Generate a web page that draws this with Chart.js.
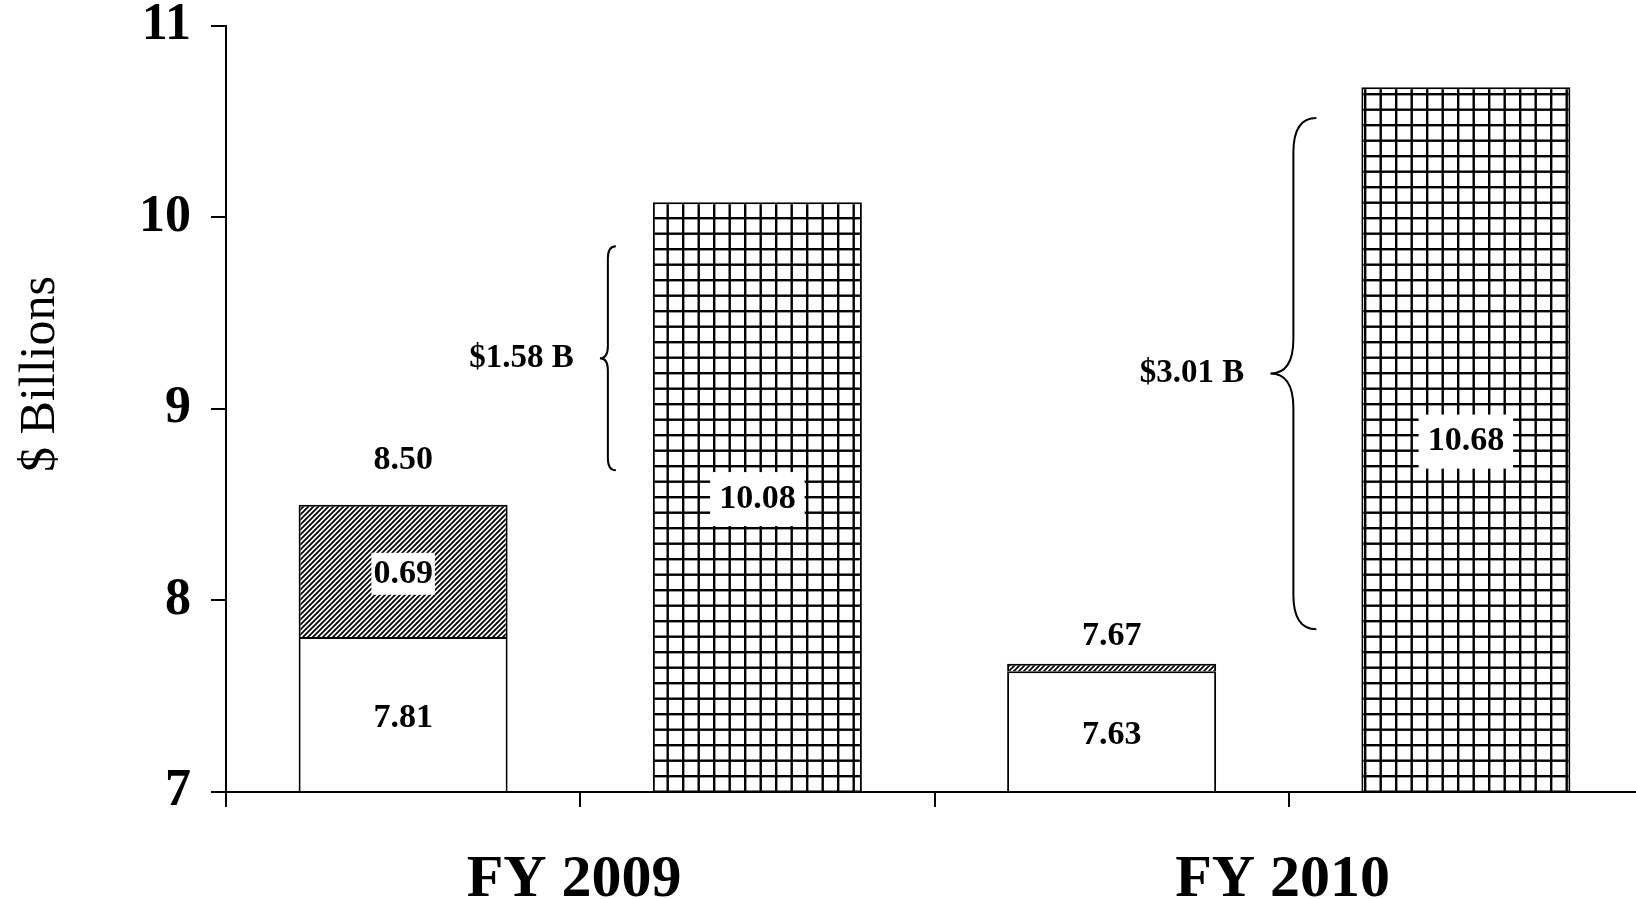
<!DOCTYPE html>
<html>
<head>
<meta charset="utf-8">
<script src="https://cdn.jsdelivr.net/npm/chart.js@4"></script>
<style>
  html, body { margin: 0; padding: 0; background: #fff; overflow: hidden; }
  #wrap { width: 1643px; height: 899px; }
</style>
</head>
<body>
<div id="wrap"><canvas id="fundingChart"></canvas></div>
<script>
// values ($ billions)
const years = ['FY 2009', 'FY 2010'];
const baseFunding = [7.81, 7.63];
const addedFunding = [0.69, 0.04];
const totalFunding = [8.50, 7.67];
const estimatedNeed = [10.08, 10.68];
const gapLabels = ['$1.58 B', '$3.01 B'];
const braceTop = [9.85, 10.52];
const braceBottom = [8.68, 7.85];
const yTicks = [7, 8, 9, 10, 11];

const SERIF = "'Liberation Serif', 'Times New Roman', serif";

// each year takes two slots: stacked bar, then the estimate bar
const slotLabels = years.flatMap(y => [y, '']);
const inFirst = arr => arr.flatMap(v => [v, null]);
const inSecond = arr => arr.flatMap(v => [null, v]);

const canvas = document.getElementById('fundingChart');
const ctx = canvas.getContext('2d');

function gridPattern() {
    const c = document.createElement('canvas');
    c.width = 31; c.height = 31;
    const g = c.getContext('2d');
    g.fillStyle = '#fff';
    g.fillRect(0, 0, 31, 31);
    g.fillStyle = '#000';
    [0, 15.5].forEach(p => {
        g.fillRect(p, 0, 2.4, 31);
        g.fillRect(0, p, 31, 2.4);
    });
    return ctx.createPattern(c, 'repeat');
}

function hatchPattern() {
    const s = 5;
    const c = document.createElement('canvas');
    c.width = s; c.height = s;
    const g = c.getContext('2d');
    g.fillStyle = '#fff';
    g.fillRect(0, 0, s, s);
    g.strokeStyle = '#000';
    g.lineWidth = 1.8;
    g.beginPath();
    g.moveTo(-1, s + 1); g.lineTo(s + 1, -1);
    g.moveTo(-1, 1); g.lineTo(1, -1);
    g.moveTo(s - 1, s + 1); g.lineTo(s + 1, s - 1);
    g.stroke();
    return ctx.createPattern(c, 'repeat');
}

function drawBrace(c, xStem, yTop, yBot, d) {
    const yMid = (yTop + yBot) / 2;
    const r = d * 1.5;
    c.beginPath();
    c.moveTo(xStem + d, yTop);
    c.quadraticCurveTo(xStem, yTop, xStem, yTop + r);
    c.lineTo(xStem, yMid - r);
    c.quadraticCurveTo(xStem, yMid, xStem - d, yMid);
    c.quadraticCurveTo(xStem, yMid, xStem, yMid + r);
    c.lineTo(xStem, yBot - r);
    c.quadraticCurveTo(xStem, yBot, xStem + d, yBot);
    c.stroke();
}

function boxedText(c, text, x, y, padX, padY) {
    const w = c.measureText(text).width;
    const h = 34;
    if (padX !== null) {
        c.fillStyle = '#fff';
        c.fillRect(x - w / 2 - padX, y - h / 2 - padY, w + 2 * padX, h + 2 * padY);
    }
    c.fillStyle = '#000';
    c.fillText(text, x, y);
}

// label styling per year
const totalLabelGap = [45, 27];
const braceOffset = [45, 68];
const braceDepth = [8, 23];

const labelPlugin = {
    id: 'valueLabels',
    afterDatasetsDraw(chart) {
        const c = chart.ctx;
        const y = chart.scales.y;
        const bottom = chart.chartArea.bottom;
        const baseMeta = chart.getDatasetMeta(0);
        const addMeta = chart.getDatasetMeta(1);
        const needMeta = chart.getDatasetMeta(2);
        const valueFont = 'bold 34px ' + SERIF;
        c.save();
        c.textAlign = 'center';
        c.textBaseline = 'middle';
        c.font = valueFont;
        years.forEach((yr, i) => {
            const b = baseMeta.data[i * 2];
            const a = addMeta.data[i * 2];
            const n = needMeta.data[i * 2 + 1];
            // base segment
            boxedText(c, baseFunding[i].toFixed(2), b.x, (b.y + Math.min(b.base, bottom)) / 2 + 4, null, 0);
            // added segment, only if tall enough
            if (Math.abs(a.base - a.y) > 40) {
                boxedText(c, addedFunding[i].toFixed(2), a.x, (a.y + a.base) / 2 + 3, 2, 4);
            }
            // total above the stack
            boxedText(c, totalFunding[i].toFixed(2), a.x, a.y - totalLabelGap[i], null, 0);
            // estimate bar
            boxedText(c, estimatedNeed[i].toFixed(2), n.x, (n.y + Math.min(n.base, bottom)) / 2 + 2, 9, 10);

            // brace and gap label
            const left = n.x - n.width / 2;
            const stem = left - braceOffset[i];
            const yT = y.getPixelForValue(braceTop[i]);
            const yB = y.getPixelForValue(braceBottom[i]);
            c.strokeStyle = '#000';
            c.lineWidth = 2;
            drawBrace(c, stem, yT, yB, braceDepth[i]);
            c.font = 'bold 33px ' + SERIF;
            c.textAlign = 'right';
            c.fillStyle = '#000';
            c.fillText(gapLabels[i], stem - braceDepth[i] - 26, (yT + yB) / 2);
            c.font = valueFont;
            c.textAlign = 'center';
        });
        c.restore();
    }
};

const yTitlePlugin = {
    id: 'yTitle',
    afterDraw(chart) {
        const c = chart.ctx;
        c.save();
        c.translate(41, 374);
        c.rotate(-Math.PI / 2);
        c.font = '50px ' + SERIF;
        c.fillStyle = '#000';
        c.textAlign = 'center';
        c.textBaseline = 'middle';
        c.fillText('$ Billions', 0, 0);
        c.restore();
    }
};

const barStyle = {
    borderColor: '#000',
    borderWidth: 2,
    borderSkipped: false,
    barPercentage: 0.59,
    categoryPercentage: 1,
    clip: 1
};

new Chart(ctx, {
    type: 'bar',
    data: {
        labels: slotLabels,
        datasets: [
            { label: 'Base', data: inFirst(baseFunding), backgroundColor: '#fff', ...barStyle },
            {
                label: 'Added', data: inFirst(addedFunding), backgroundColor: hatchPattern(), ...barStyle,
                borderWidth: { top: 2, left: 2, right: 2, bottom: 0 }
            },
            { label: 'Estimated need', data: inSecond(estimatedNeed), backgroundColor: gridPattern(), ...barStyle }
        ]
    },
    options: {
        responsive: true,
        maintainAspectRatio: false,
        animation: false,
        layout: { padding: 0 },
        plugins: {
            legend: { display: false },
            tooltip: { enabled: false }
        },
        scales: {
            x: {
                stacked: true,
                afterFit: s => { s.height = 107; },
                grid: {
                    display: true,
                    drawOnChartArea: false,
                    offset: true,
                    tickLength: 15,
                    lineWidth: 2,
                    color: '#000'
                },
                border: { display: true, color: '#000', width: 2, z: 1 },
                ticks: {
                    autoSkip: false,
                    maxRotation: 0,
                    minRotation: 0,
                    labelOffset: 171,
                    padding: 37,
                    color: '#000',
                    font: { family: SERIF, size: 60, weight: 'bold', lineHeight: 1.2 }
                }
            },
            y: {
                stacked: true,
                min: 7,
                max: 11,
                afterFit: s => { s.width = 226; },
                afterBuildTicks: s => { s.ticks = yTicks.map(v => ({ value: v })); },
                grid: {
                    display: true,
                    drawOnChartArea: false,
                    tickLength: 15,
                    lineWidth: 2,
                    color: '#000'
                },
                border: { display: true, color: '#000', width: 2, z: 1 },
                ticks: {
                    padding: 20,
                    color: '#000',
                    // small lineHeight keeps the chart top at the "11" tick
                    font: { family: SERIF, size: 52, weight: 'bold', lineHeight: 0.23 },
                    callback: v => String(v)
                }
            }
        }
    },
    plugins: [labelPlugin, yTitlePlugin]
});
</script>
</body>
</html>
